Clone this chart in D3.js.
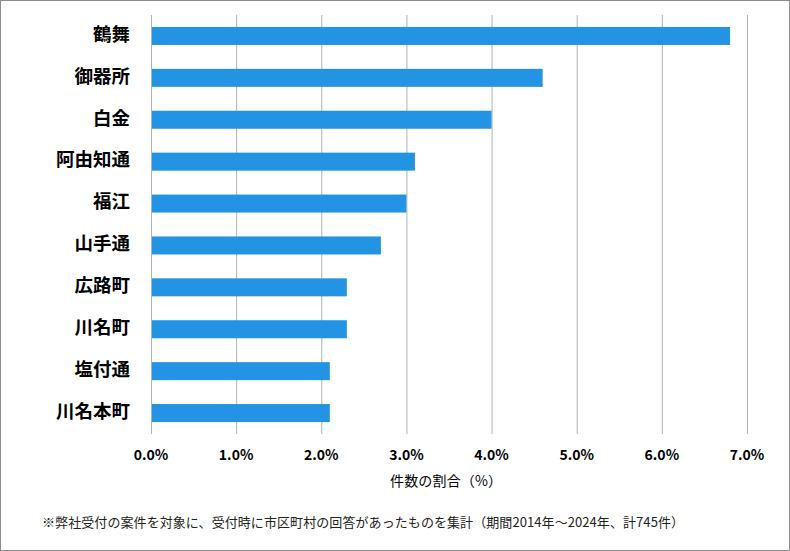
<!DOCTYPE html>
<html><head><meta charset="utf-8">
<script src="https://cdn.jsdelivr.net/npm/d3@7"></script>
<style>
html,body{margin:0;padding:0;background:#fff;}
svg{display:block;}
</style></head>
<body>
<svg id="c" width="790" height="551"></svg>
<script>
const categories = ["鶴舞","御器所","白金","阿由知通","福江","山手通","広路町","川名町","塩付通","川名本町"];
const values = [6.8, 4.6, 4.0, 3.1, 3.0, 2.7, 2.3, 2.3, 2.1, 2.1];
const ticks = [0,1,2,3,4,5,6,7];
const xTitle = "件数の割合（%）";
const footnote = "※弊社受付の案件を対象に、受付時に市区町村の回答があったものを集計（期間2014年～2024年、計745件）";

(function(){
const svg = d3.select("#c");
const font = "'Noto Sans CJK JP','Noto Sans',sans-serif";
svg.append("rect").attr("x",0.5).attr("y",0.5).attr("width",789).attr("height",550)
  .attr("fill","#fff").attr("stroke","#8c8c8c");

const pL = 151, pR = 747, pT = 15, pB = 434;
const x = d3.scaleLinear().domain([0,7]).range([pL,pR]);
const y = d3.scaleBand().domain(categories).range([pT,pB]).paddingInner(0.57).paddingOuter(0.285);

svg.append("g").selectAll("line").data(ticks).join("line")
  .attr("x1",d=>x(d)+0.5).attr("x2",d=>x(d)+0.5).attr("y1",pT).attr("y2",pB)
  .attr("stroke","#b3b3b3").attr("stroke-width",1);

svg.append("g").selectAll("rect").data(values).join("rect")
  .attr("x",x(0)+1).attr("y",(d,i)=>y(categories[i]))
  .attr("width",d=>x(d)-x(0)-1).attr("height",y.bandwidth())
  .attr("fill","#2394e3");

svg.append("g").selectAll("text").data(categories).join("text")
  .attr("x",130).attr("y",d=>y(d)+y.bandwidth()/2).attr("dy","0.26em")
  .attr("text-anchor","end").attr("font-family",font).attr("font-weight","bold")
  .attr("font-size",18.5).attr("fill","#000").text(d=>d);

svg.append("g").selectAll("text").data(ticks).join("text")
  .attr("x",d=>x(d)).attr("y",460).attr("text-anchor","middle")
  .attr("font-family",font).attr("font-weight","bold").attr("font-size",14)
  .attr("fill","#000").text(d=>d.toFixed(1)+"%");

svg.append("text").attr("x",390).attr("y",486)
  .attr("font-family",font).attr("font-size",14).attr("fill","#000")
  .attr("textLength",112).text(xTitle);

svg.append("text").attr("x",42).attr("y",527)
  .attr("font-family",font).attr("font-size",13).attr("fill","#222")
  .attr("textLength",642).text(footnote);
})();
</script>
</body></html>
